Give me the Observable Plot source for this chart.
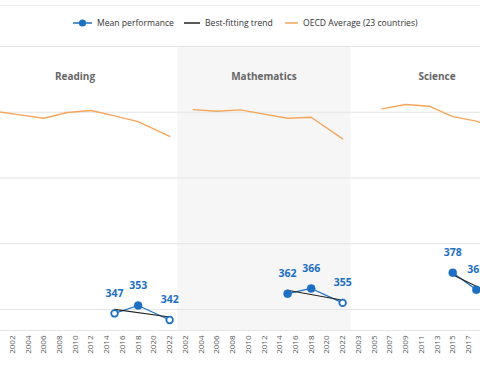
<!DOCTYPE html>
<html>
<head>
<meta charset="utf-8">
<script src="https://cdn.jsdelivr.net/npm/d3@7"></script>
<script src="https://cdn.jsdelivr.net/npm/@observablehq/plot@0.6"></script>
<style>
  html, body { margin: 0; padding: 0; background: #fff; }
  #wrap { position: relative; width: 480px; height: 384px; overflow: hidden; font-family: "Open Sans", sans-serif; }
  #topline { position: absolute; left: 0; top: 5px; width: 480px; height: 0; border-top: 1px solid #ececec; }
  #legend { position: absolute; left: 0; top: 14px; width: 480px; height: 18px; font-size: 8.6px; color: #333; }
  #legend .item { position: absolute; top: 0; height: 18px; display: flex; align-items: center; white-space: nowrap; }
  #legend svg { display: block; margin-right: 5px; }
  #row { position: absolute; left: -4px; top: 40px; display: flex; flex-direction: row; }
  #row svg { display: block; position: relative; }
</style>
</head>
<body>
<div id="wrap">
  <div id="topline"></div>
  <div id="legend"></div>
  <div id="row"></div>
</div>
<script>
// ---- data ----
const subjects = ["Reading", "Mathematics", "Science"];
const countryYears = [2015, 2018, 2022];
const readingMean = [347, 353, 342];
const mathMean = [362, 366, 355];
const scienceMean = [378, 365, 357];
const readingHollow = [true, false, true];
const mathHollow = [false, false, true];
const scienceHollow = [false, false, true];

const readingOecdYears = [2000, 2003, 2006, 2009, 2012, 2015, 2018, 2022];
const readingOecd = [500.5, 498, 495.4, 499.8, 501.3, 497.2, 492.9, 481.7];
const mathOecdYears = [2003, 2006, 2009, 2012, 2015, 2018, 2022];
const mathOecd = [502, 500.8, 501.8, 498.6, 495.4, 496.2, 479.8];
const scienceOecdYears = [2006, 2009, 2012, 2015, 2018, 2022];
const scienceOecd = [502.6, 505.9, 504.6, 496.7, 493.2, 485];

const evenTicks = [2002, 2004, 2006, 2008, 2010, 2012, 2014, 2016, 2018, 2020, 2022];
const oddTicks = [2003, 2005, 2007, 2009, 2011, 2013, 2015, 2017];
const gridValues = [350, 400, 450, 500, 550];
const yDomain = [334, 550];

const legendItems = ["Mean performance", "Best-fitting trend", "OECD Average (23 countries)"];

// ---- style ----
const BLUE = "#1d6fc2";
const ORANGE = "#f5a65b";
const TREND = "#222";

function panel({title, years, mean, hollow, oecdYears, oecd, domain, ticks, width, shaded, titleDx, z}) {
  const pts = years.map((y, i) => ({year: y, value: mean[i], hollow: hollow[i]}));
  const avg = oecdYears.map((y, i) => ({year: y, value: oecd[i]}));
  const svg = Plot.plot({
    width, height: 320,
    marginLeft: 0, marginRight: 0, marginTop: 6, marginBottom: 30,
    x: {domain, axis: null},
    y: {domain: yDomain, axis: null},
    style: {fontFamily: "Open Sans, sans-serif", background: "transparent", overflow: "visible"},
    marks: [
      shaded ? Plot.frame({fill: "#f6f6f6", stroke: null}) : null,
      Plot.ruleY(gridValues, {stroke: "#e4e4e4", strokeWidth: 1}),
      Plot.ruleY([yDomain[0]], {stroke: "#e4e4e4", strokeWidth: 1}),
      Plot.axisX(ticks, {tickSize: 0, tickPadding: 5, tickRotate: -90, tickFormat: d => String(d), fontSize: 8, fill: "#555", label: null}),
      Plot.text([title], {frameAnchor: "top", dy: 26, dx: titleDx, fontSize: 10, fontWeight: "bold", fill: "#666"}),
      Plot.line(avg, {x: "year", y: "value", stroke: ORANGE, strokeWidth: 1.4}),
      Plot.line(pts, {x: "year", y: "value", stroke: BLUE, strokeWidth: 1.2}),
      Plot.linearRegressionY(pts, {x: "year", y: "value", stroke: TREND, strokeWidth: 1.1, ci: 0}),
      Plot.dot(pts.filter(d => !d.hollow), {x: "year", y: "value", r: 4, fill: BLUE, stroke: BLUE, strokeWidth: 0.5}),
      Plot.dot(pts.filter(d => d.hollow), {x: "year", y: "value", r: 3.3, fill: "white", stroke: BLUE, strokeWidth: 1.8}),
      Plot.text(pts, {x: "year", y: "value", text: d => String(d.value), dy: -20, fontSize: 10.5, fontWeight: "bold", fill: BLUE})
    ]
  });
  svg.style.zIndex = z;
  return svg;
}

const row = document.getElementById("row");
row.appendChild(panel({title: subjects[0], years: countryYears, mean: readingMean, hollow: readingHollow,
  oecdYears: readingOecdYears, oecd: readingOecd, domain: [2000, 2023], ticks: evenTicks, width: 181, shaded: false, titleDx: -12, z: 3}));
row.appendChild(panel({title: subjects[1], years: countryYears, mean: mathMean, hollow: mathHollow,
  oecdYears: mathOecdYears, oecd: mathOecd, domain: [2001, 2023], ticks: evenTicks, width: 173, shaded: true, titleDx: 0, z: 2}));
row.appendChild(panel({title: subjects[2], years: countryYears, mean: scienceMean, hollow: scienceHollow,
  oecdYears: scienceOecdYears, oecd: scienceOecd, domain: [2002, 2024], ticks: oddTicks, width: 173, shaded: false, titleDx: 0, z: 1}));

// ---- legend ----
const legend = document.getElementById("legend");
const legendLeft = [73, 184, 285];
const legendIcons = [
  `<svg width="19" height="10"><line x1="0" y1="5" x2="19" y2="5" stroke="${BLUE}" stroke-width="1.5"/><circle cx="9.5" cy="5" r="3.6" fill="${BLUE}"/></svg>`,
  `<svg width="16" height="10"><line x1="0" y1="5" x2="16" y2="5" stroke="${TREND}" stroke-width="1.5"/></svg>`,
  `<svg width="13" height="10"><line x1="0" y1="5" x2="13" y2="5" stroke="${ORANGE}" stroke-width="1.5"/></svg>`
];
legendItems.forEach((label, i) => {
  const el = document.createElement("div");
  el.className = "item";
  el.style.left = legendLeft[i] + "px";
  el.innerHTML = legendIcons[i] + `<span>${label}</span>`;
  legend.appendChild(el);
});
</script>
</body>
</html>
